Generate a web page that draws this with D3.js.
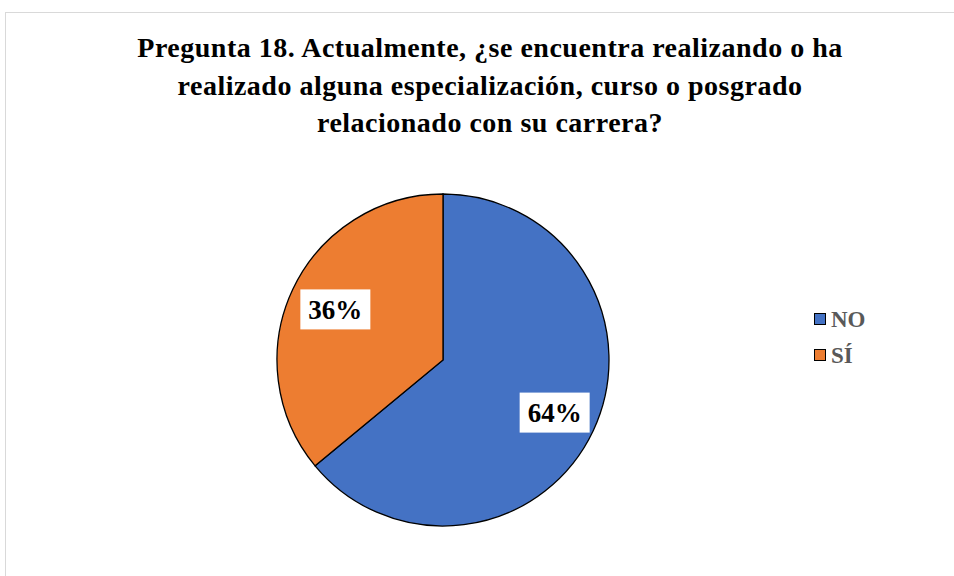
<!DOCTYPE html>
<html>
<head>
<meta charset="utf-8">
<script src="https://cdn.jsdelivr.net/npm/d3@7"></script>
<style>
  body { margin: 0; background: #fff; }
  svg { display: block; }
  svg text { font-family: "Liberation Serif", "DejaVu Serif", serif; }
</style>
</head>
<body>
<div id="chart"></div>
<script>
// chart data
var categories = ["NO", "SÍ"];
var values = [64, 36];
var colors = ["#4472C4", "#ED7D31"];
var titleLines = [
  "Pregunta 18. Actualmente, ¿se encuentra realizando o ha",
  "realizado alguna especialización, curso o posgrado",
  "relacionado con su carrera?"
];

var width = 954, height = 576;

var svg = d3.select("#chart").append("svg")
  .attr("width", width)
  .attr("height", height);

// chart area border
svg.append("rect")
  .attr("x", 5.5).attr("y", 12.5)
  .attr("width", 960).attr("height", 600)
  .attr("fill", "#fff")
  .attr("stroke", "#d9d9d9")
  .attr("stroke-width", 1);

// title
svg.append("text")
  .attr("text-anchor", "middle")
  .style("font-weight", "bold")
  .style("font-size", "28px")
  .style("letter-spacing", "0.5px")
  .attr("fill", "#000")
  .selectAll("tspan")
  .data(titleLines)
  .enter().append("tspan")
  .attr("x", 490)
  .attr("y", (d, i) => 57 + i * 37.5)
  .text(d => d);

// pie
var cx = 443, cy = 360, r = 166;
var data = categories.map((c, i) => ({ name: c, value: values[i], color: colors[i] }));

var pie = d3.pie().sort(null).value(d => d.value);
var arc = d3.arc().innerRadius(0).outerRadius(r);

var g = svg.append("g").attr("transform", "translate(" + cx + "," + cy + ")");

var arcs = pie(data);

g.selectAll("path.slice")
  .data(arcs)
  .enter().append("path")
  .attr("class", "slice")
  .attr("d", arc)
  .attr("fill", d => d.data.color)
  .attr("stroke", "#000")
  .attr("stroke-width", 1.3);

// data labels with white boxes
var labelArc = d3.arc().innerRadius(r * 0.73).outerRadius(r * 0.73);
var boxW = 70, boxH = 40;

var labels = g.selectAll("g.label")
  .data(arcs)
  .enter().append("g")
  .attr("class", "label")
  .attr("transform", d => {
    var p = labelArc.centroid(d);
    return "translate(" + (p[0] + 2) + "," + (p[1] + 1) + ")";
  });

labels.append("rect")
  .attr("x", -boxW / 2).attr("y", -boxH / 2)
  .attr("width", boxW).attr("height", boxH)
  .attr("fill", "#fff");

labels.append("text")
  .attr("text-anchor", "middle")
  .attr("dy", "0.35em")
  .style("font-weight", "bold")
  .style("font-size", "27px")
  .attr("fill", "#000")
  .text(d => Math.round(d.data.value) + "%");

// legend
var legend = svg.append("g").attr("transform", "translate(814,313)");
var items = legend.selectAll("g")
  .data(data)
  .enter().append("g")
  .attr("transform", (d, i) => "translate(0," + (i * 36) + ")");

items.append("rect")
  .attr("x", 0.5).attr("y", 0.5)
  .attr("width", 11).attr("height", 11)
  .attr("fill", d => d.color)
  .attr("stroke", "#000")
  .attr("stroke-width", 1);

items.append("text")
  .attr("x", 17)
  .attr("y", 6)
  .attr("dy", "0.36em")
  .style("font-weight", "bold")
  .style("font-size", "23px")
  .attr("fill", "#595959")
  .text(d => d.name);
</script>
</body>
</html>
